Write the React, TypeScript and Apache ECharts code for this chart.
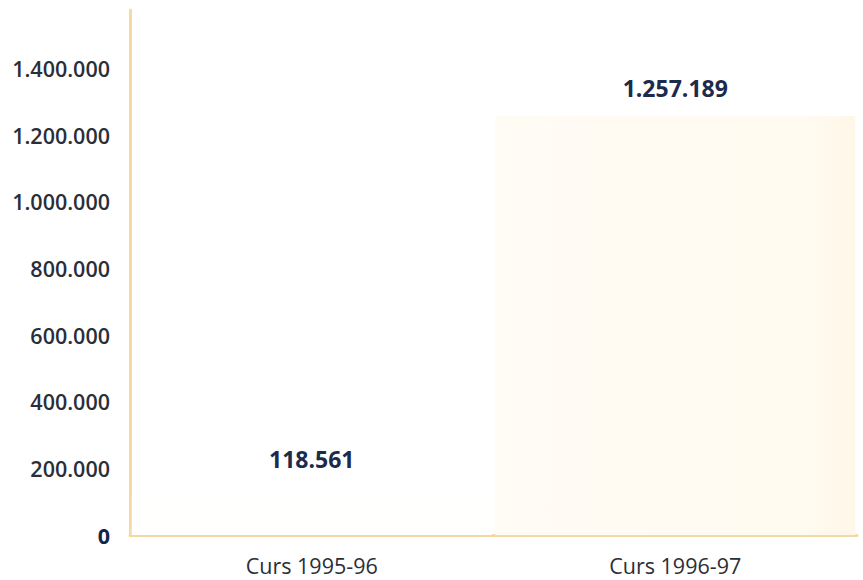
import React, { useEffect, useRef } from "react";
import * as echarts from "echarts";

const categories = ["Curs 1995-96", "Curs 1996-97"];
const values = [118561, 1257189];
const labelDistances = [25, 16];

const fmt = (v: number) =>
  String(Math.round(v)).replace(/\B(?=(\d{3})+(?!\d))/g, ".");

export default function App() {
  const ref = useRef<HTMLDivElement>(null);
  useEffect(() => {
    if (!ref.current) return;
    const chart = echarts.init(ref.current, undefined, { renderer: "svg" });
    const font = "'Open Sans', 'Noto Sans', sans-serif";
    chart.setOption({
      animation: false,
      backgroundColor: "#ffffff",
      grid: { left: 130, right: 6, top: 10, bottom: 45, containLabel: false },
      xAxis: {
        type: "category",
        data: categories,
        axisLine: { lineStyle: { color: "#F5D9A3", width: 3 } },
        axisTick: { show: false },
        axisLabel: {
          margin: 19,
          fontFamily: font,
          fontSize: 21.5,
          color: "#2a2e38",
        },
      },
      yAxis: {
        type: "value",
        min: 0,
        max: 1575000,
        interval: 200000,
        splitLine: { show: false },
        axisTick: { show: false },
        axisLine: { show: true, lineStyle: { color: "#F5D9A3", width: 3 } },
        axisLabel: {
          showMaxLabel: false,
          margin: 20,
          fontFamily: font,
          fontSize: 21.5,
          fontWeight: 600,
          color: "#2a2e38",
          formatter: (v: number) => (v === 0 ? "{z|0}" : fmt(v)),
          rich: {
            z: {
              fontFamily: font,
              fontSize: 21.5,
              fontWeight: 700,
              color: "#14234a",
            },
          },
        },
      },
      series: [
        {
          type: "bar",
          barWidth: 360,
          data: values.map((v, i) => ({
            value: v,
            itemStyle: {
              color:
                i === 0
                  ? "#FFFFFD"
                  : new echarts.graphic.LinearGradient(0, 0, 1, 0, [
                      { offset: 0, color: "#FFFCF5" },
                      { offset: 0.85, color: "#FFFBF1" },
                      { offset: 1, color: "#FFF7E8" },
                    ]),
            },
            label: {
              show: true,
              position: "top",
              distance: labelDistances[i],
              formatter: () => fmt(v),
              fontFamily: font,
              fontSize: 23,
              fontWeight: 700,
              color: "#1c2a4c",
            },
          })),
        },
      ],
    });
    return () => chart.dispose();
  }, []);
  return (
    <div
      ref={ref}
      style={{ position: "absolute", left: 0, top: 0, width: 863, height: 580 }}
    />
  );
}
